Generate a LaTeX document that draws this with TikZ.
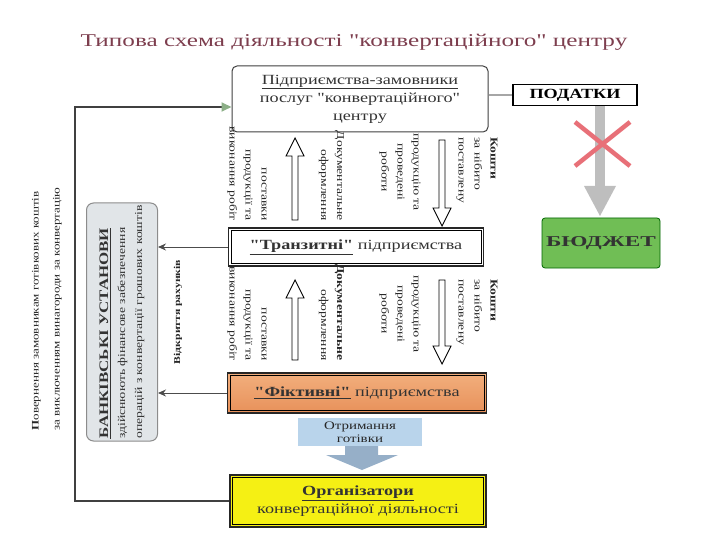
\documentclass[tikz,border=0pt]{standalone}
\usepackage{fontspec}
\setmainfont{Liberation Serif}
\newfontfamily\basefont[FakeStretch=1.3]{Liberation Serif}
\newfontfamily\titlefont[FakeStretch=1.4]{Liberation Serif}
\newfontfamily\widefont[FakeStretch=1.55]{Liberation Serif}
\usetikzlibrary{arrows.meta}
\definecolor{titlec}{RGB}{125,62,78}
\definecolor{fictc}{RGB}{232,145,90}
\definecolor{fictl}{RGB}{242,175,125}
\definecolor{orgc}{RGB}{245,240,20}
\definecolor{cashc}{RGB}{185,212,235}
\definecolor{cashar}{RGB}{150,175,200}
\definecolor{budgetc}{RGB}{112,190,85}
\definecolor{bankc}{RGB}{225,229,232}
\definecolor{bigarrow}{RGB}{190,190,190}
\definecolor{crossc}{RGB}{232,112,120}
\definecolor{tipgreen}{RGB}{140,175,135}
\newcommand{\innerframe}[1]{\draw[line width=0.6pt] ([xshift=3.5pt,yshift=-3.5pt]#1.north west) rectangle ([xshift=-3.5pt,yshift=3.5pt]#1.south east);}
\newcommand{\hollowup}[3]{\draw[line width=0.9pt,fill=white] (#1-3,#3) -- (#1-3,#2+18) -- (#1-9,#2+18) -- (#1,#2) -- (#1+9,#2+18) -- (#1+3,#2+18) -- (#1+3,#3) -- cycle;}
\newcommand{\hollowdown}[3]{\draw[line width=0.9pt,fill=white] (#1-3,#2) -- (#1-3,#3-18) -- (#1-9,#3-18) -- (#1,#3) -- (#1+9,#3-18) -- (#1+3,#3-18) -- (#1+3,#2) -- cycle;}
\begin{document}
\basefont
\begin{tikzpicture}[x=1pt,y=-1pt,
  boxtext/.style={font=\fontsize{14}{18}\selectfont, align=center, text=black!80},
  dbl/.style={draw=black!85, line width=1.8pt, boxtext},
  coltext/.style={font=\fontsize{10.5}{16}\selectfont, inner sep=0pt, text=black!85},
  mainline/.style={draw=black!75, line width=1.8pt},
  bankarrow/.style={draw=black!70, line width=1pt, -{Stealth[length=8pt,width=7pt]}}
]
\useasboundingbox (0,0) rectangle (720,540);

% title
\node[font=\titlefont\fontsize{18}{20}\selectfont, text=titlec] (title) at (354,42) {Типова схема діяльності "конвертаційного" центру};

% top box
\node[boxtext, draw=black!75, line width=1pt, rounded corners=5pt, fill=white, minimum width=256pt, minimum height=66pt] (cust) at (360,99)
  {\underline{Підприємства-замовники}\\послуг "конвертаційного"\\центру};

% taxes and budget
\node[draw, line width=1.8pt, minimum width=124pt, minimum height=21pt, inner sep=0pt, font=\fontsize{14}{16}\selectfont\bfseries] (tax) at (575,95) {ПОДАТКИ};
\node[draw=green!40!black, line width=0.8pt, fill=budgetc, rounded corners=3pt, minimum width=118pt, minimum height=50pt, font=\widefont\fontsize{15}{17}\selectfont\bfseries, text=black!80] (budget) at (601,243) {БЮДЖЕТ};
\draw[draw=black!35, line width=2pt] (cust.east |- tax.west) -- (tax.west);
\fill[bigarrow] (595,106) rectangle (605,186);
\fill[bigarrow] (584,186) -- (616,186) -- (600,216) -- cycle;
\draw[crossc, line width=4.5pt] (575,122) -- (630,166) (630,122) -- (575,166);

% transit
\node[dbl, fill=white, minimum width=255pt, minimum height=38pt] (tr) at (356,247) {\textbf{\underline{"Транзитні"}} підприємства};
\innerframe{tr}

% fictitious
\node[dbl, top color=fictl, bottom color=fictc, minimum width=259pt, minimum height=40pt] (fict) at (357,393) {\textbf{\underline{"Фіктивні"}} підприємства};
\innerframe{fict}

% cash
\node[fill=cashc, minimum width=124pt, minimum height=28pt, font=\fontsize{11.5}{12.5}\selectfont, align=center, text=black!85] (cash) at (360,432) {Отримання\\готівки};
\fill[cashar] (345,446) -- (378,446) -- (378,455) -- (398,455) -- (362,470) -- (326,455) -- (345,455) -- cycle;

% organisers
\node[dbl, fill=orgc, minimum width=256pt, minimum height=52pt] (org) at (358,501) {\textbf{\underline{Організатори}}\\конвертаційної діяльності};
\innerframe{org}

% block arrows and column texts (upper)
\hollowup{295}{138}{220}
\hollowdown{442}{140}{226}
\node[coltext, rotate=-90, align=right, anchor=east] (u1) at (247,221) {поставки\\продукції та\\виконання робіт};
\node[coltext, rotate=-90, align=right, anchor=east] (u2) at (331.5,221) {Документальне\\оформлення};
\node[coltext, rotate=-90, align=left, anchor=west] (u3) at (477,137) {\textbf{Кошти}\\за нібито\\поставлену};
\node[coltext, rotate=-90, align=center] (u4) at (400,172) {продукцію та\\проведені\\роботи};

% lower
\hollowup{295}{280}{360}
\hollowdown{442}{280}{364}
\node[coltext, rotate=-90, align=right, anchor=east] (l1) at (247,361) {поставки\\продукції та\\виконання робіт};
\node[coltext, rotate=-90, align=right, anchor=east] (l2) at (331.5,361) {\textbf{Документальне}\\оформлення};
\node[coltext, rotate=-90, align=left, anchor=west] (l3) at (477,279) {\textbf{Кошти}\\за нібито\\поставлену};
\node[coltext, rotate=-90, align=center] (l4) at (400,314) {продукцію та\\проведені\\роботи};

% bank
\node[draw=black!45, line width=1pt, fill=bankc, rounded corners=7pt, minimum width=71pt, minimum height=238pt] (bank) at (122,322) {};
\node[rotate=90, align=left, font=\fontsize{10.5}{17}\selectfont, text=black!80] (banktext) at (bank.center) {{\fontsize{13}{17}\selectfont\bfseries\underline{БАНКІВСЬКІ УСТАНОВИ}}\\здійснюють фінансове забезпечення\\операцій з конвертації грошових коштів};
\draw[bankarrow] (tr.west) -- (tr.west -| bank.east);
\draw[bankarrow] (fict.west) -- (fict.west -| bank.east);
\node[rotate=90, font=\bfseries\fontsize{9}{10}\selectfont, text=black!85] (open) at (178,312) {Відкриття рахунків};

% return line
\coordinate (lt) at (75,107);
\draw[mainline, -{Triangle[length=10pt,width=9pt,fill=tipgreen,color=tipgreen]}] (org.west) -| (lt) -- (cust.west |- lt);
\node[rotate=90, align=left, font=\fontsize{10}{21}\selectfont, text=black!85] (ret) at (47,309) {\textbf{П}овернення замовникам готівкових коштів\\за виключенням винагороди за конвертацію};
\end{tikzpicture}
\end{document}
